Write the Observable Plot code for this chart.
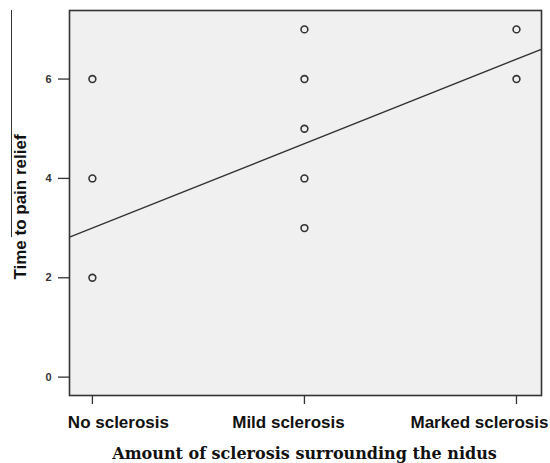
<!DOCTYPE html>
<html>
<head>
<meta charset="utf-8">
<script src="https://cdn.jsdelivr.net/npm/d3@7"></script>
<script src="https://cdn.jsdelivr.net/npm/@observablehq/plot@0.6"></script>
<style>
  html, body { margin: 0; padding: 0; background: #fff; }
  #wrap { position: relative; width: 550px; height: 463px; }
  #artifact { position: absolute; left: 11px; top: 10px; width: 1px; height: 227px; background: #333; }
</style>
</head>
<body>
<div id="wrap"><div id="artifact"></div></div>
<script>
// Categories (x positions 0,1,2)
const categories = ["No sclerosis", "Mild sclerosis", "Marked sclerosis"];
// Observed times to pain relief per category
const noSclerosis = [6, 4, 2];
const mildSclerosis = [7, 6, 5, 4, 3];
const markedSclerosis = [7, 6];
// Fitted line as drawn
const fitIntercept = 3.0;
const fitSlope = 1.7;
const yTicks = [0, 2, 4, 6];
const xTitle = "Amount of sclerosis surrounding the nidus";
const yTitle = "Time to pain relief";

const points = [];
[noSclerosis, mildSclerosis, markedSclerosis].forEach((vals, i) => {
  vals.forEach(v => points.push({x: i, y: v}));
});
const xDomain = [-0.108, 2.118];
const fit = xDomain.map(x => ({x, y: fitIntercept + fitSlope * x}));

// label horizontal shifts as seen in the reference
const labelShift = [26, -16, -37];

const chart = Plot.plot({
  width: 550,
  height: 463,
  marginLeft: 69,
  marginRight: 9,
  marginTop: 10,
  marginBottom: 68,
  style: {background: "#fff", fontFamily: "'Liberation Sans', Arial, sans-serif", overflow: "visible"},
  x: {domain: xDomain, axis: null},
  y: {domain: [-0.37, 7.38], axis: null},
  marks: [
    Plot.frame({fill: "#f0f0f0", stroke: "none"}),
    Plot.axisY({
      ticks: yTicks, tickSize: 11, tickPadding: 7, label: null,
      fontSize: 11, fontWeight: "bold", fill: "#333", stroke: "#333", strokeWidth: 1.3
    }),
    Plot.axisX({ticks: [0, 1, 2], tickSize: 9, text: null, label: null, stroke: "#333", strokeWidth: 1.3}),
    ...categories.map((c, i) => Plot.axisX({
      ticks: [i], tickSize: 0, tickPadding: 20, label: null, fontSize: 17, fontWeight: "bold",
      fill: "#111", tickFormat: j => categories[j], dx: labelShift[i]
    })),
    Plot.line(fit, {x: "x", y: "y", stroke: "#333", strokeWidth: 1.4, clip: true}),
    Plot.dot(points, {x: "x", y: "y", r: 3.4, stroke: "#333", strokeWidth: 1.6, fill: "none"}),
    Plot.frame({stroke: "#333", strokeWidth: 1.6}),
    Plot.text([xTitle], {
      frameAnchor: "bottom", dx: -1, dy: 63, text: d => d, fontSize: 16, fontWeight: "bold",
      fontFamily: "'DejaVu Serif', 'Liberation Serif', serif", fill: "#111", lineAnchor: "bottom"
    }),
    Plot.text([yTitle], {
      frameAnchor: "left", dx: -49, dy: 4, rotate: -90, textAnchor: "middle", text: d => d,
      fontSize: 17, fontWeight: "bold", fill: "#111"
    })
  ]
});
document.getElementById("wrap").appendChild(chart);
</script>
</body>
</html>
